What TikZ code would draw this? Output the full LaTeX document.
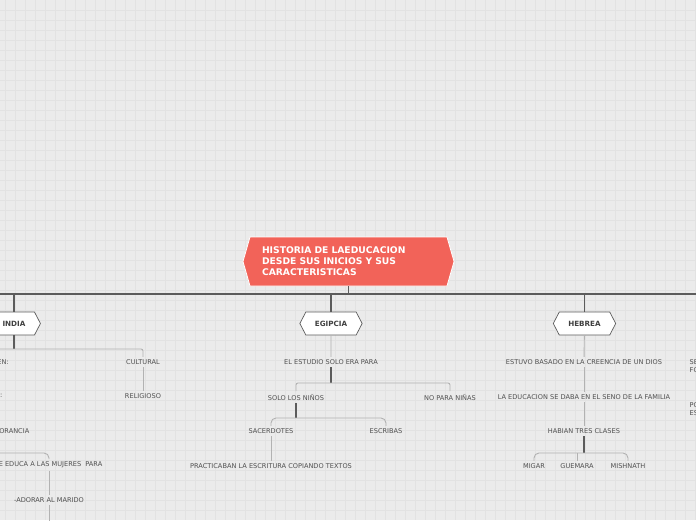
\documentclass[tikz,border=0pt]{standalone}
\usepackage{fontspec}
\setmainfont{DejaVu Sans}
\usetikzlibrary{shapes.symbols,positioning}
\definecolor{fondo}{HTML}{EBEBEB}
\definecolor{rejilla}{HTML}{E2E2E2}
\definecolor{rojo}{HTML}{F26359}
\definecolor{trazo}{HTML}{5C5C5C}
\definecolor{rama}{HTML}{B2B2B2}
\definecolor{letra}{HTML}{505050}
\tikzset{
  titulo/.style={shape=signal, signal to=east and west, signal pointer angle=148, fill=rojo, draw=white,
                 line width=0.8pt, text=white, font=\fontsize{9.2}{11}\selectfont\bfseries,
                 align=left, text width=173pt, inner xsep=12pt, minimum height=49pt},
  tema/.style={shape=signal, signal to=east and west, signal pointer angle=125, fill=white, draw=trazo,
               line width=0.7pt, text=letra!80!black, font=\fontsize{7.2}{8}\selectfont\bfseries,
               inner xsep=9pt, minimum height=23pt},
  idea/.style={text=letra, font=\fontsize{6.6}{8}\selectfont, inner sep=2.5pt},
  tronco/.style={draw=trazo, line width=1.3pt},
  linea/.style={draw=rama, line width=0.9pt},
}
\begin{document}
\begin{tikzpicture}[x=1pt,y=-1pt]
  \useasboundingbox (0,0) rectangle (696,520);
  \fill[fondo] (0,0) rectangle (696,520);
  \foreach \i in {5,15,...,695} \draw[rejilla, line width=0.5pt] (\i,0) -- (\i,520);
  \foreach \j in {10,20,...,510} \draw[rejilla, line width=0.5pt] (0,\j) -- (696,\j);

  % tema central
  \node[titulo] (raiz) at (348.5,261.5) {HISTORIA DE LAEDUCACION\\DESDE SUS INICIOS Y SUS\\CARACTERISTICAS};
  \node[tema] (india) at (14,323.5) {INDIA};
  \node[tema] (egipcia) at (331,323.5) {EGIPCIA};
  \node[tema] (hebrea) at (584.5,323.5) {HEBREA};
  \coordinate (barraI) at (-10,294);
  \coordinate (barraD) at (706,294);
  \draw[tronco] (raiz.south) -- (raiz.south |- barraI);
  \draw[tronco] (barraI) -- (barraD);
  \foreach \t in {india,egipcia,hebrea} \draw[tronco] (\t.north) -- (\t.north |- barraI);

  % india
  \node[idea, anchor=east] (indA) at (11.5,362) {EN:};
  \node[idea] (cultural) at (143,362) {CULTURAL};
  \node[idea] (religioso) at (143,396) {RELIGIOSO};
  \node[idea, anchor=east] (indB) at (5,396) {:};
  \node[idea, anchor=east] (indC) at (32,431) {ORANCIA};
  \node[idea, anchor=east] (indD) at (105,465) {E EDUCA A LAS MUJERES\ \ PARA};
  \node[idea] (adorar) at (49,500) {-ADORAR AL MARIDO};
  \coordinate (bi) at (-10,349);
  \coordinate (bm) at (-10,453);
  \coordinate (abajo) at (49,530);
  \draw[tronco] (india.south) -- (india.south |- bi);
  \draw[linea, rounded corners=2pt] (bi) -- (cultural.north |- bi) -- (cultural.north);
  \draw[linea] (cultural) -- (religioso);
  \draw[linea, rounded corners=5pt] (bm) -- (adorar |- bm) -- (adorar |- indD.north);
  \draw[linea] (adorar |- indD.south) -- (adorar.north);
  \draw[linea] (adorar) -- (abajo);

  % egipcia
  \node[idea] (estudio) at (331,362) {EL ESTUDIO SOLO ERA PARA};
  \node[idea] (ninos) at (296,397) {SOLO LOS NIÑOS};
  \node[idea] (ninas) at (450,397) {NO PARA NIÑAS};
  \node[idea] (sacerdotes) at (271,431) {SACERDOTES};
  \node[idea] (escribas) at (386,431) {ESCRIBAS};
  \node[idea] (practicaban) at (271,466) {PRACTICABAN LA ESCRITURA COPIANDO TEXTOS};
  \coordinate (be) at (331,383);
  \coordinate (bs) at (296,418);
  \draw[linea] (egipcia) -- (estudio);
  \draw[tronco] (estudio) -- (be);
  \draw[linea, rounded corners=2pt] (ninos.north) -- (ninos.north |- be) -- (ninas.north |- be) -- (ninas.north);
  \draw[tronco] (ninos) -- (bs);
  \draw[linea, rounded corners=5pt] (sacerdotes.north) -- (sacerdotes.north |- bs) -- (escribas.north |- bs) -- (escribas.north);
  \draw[linea] (sacerdotes) -- (practicaban);

  % hebrea
  \node[idea] (estuvo) at (584,362) {ESTUVO BASADO EN LA CREENCIA DE UN DIOS};
  \node[idea] (familia) at (584,397) {LA EDUCACION SE DABA EN EL SENO DE LA FAMILIA};
  \node[idea] (clases) at (584,431) {HABIAN TRES CLASES};
  \node[idea] (migar) at (534,466) {MIGAR};
  \node[idea] (guemara) at (577,466) {GUEMARA};
  \node[idea] (mishnath) at (628,466) {MISHNATH};
  \coordinate (bh) at (584,453);
  \draw[linea] (hebrea) -- (estuvo);
  \draw[linea] (estuvo) -- (familia);
  \draw[linea] (familia) -- (clases);
  \draw[tronco] (clases) -- (bh);
  \draw[linea, rounded corners=5pt] (migar.north) -- (migar.north |- bh) -- (mishnath.north |- bh) -- (mishnath.north);
  \draw[linea, rounded corners=3pt] (guemara.north) -- (guemara.north |- bh);

  % borde derecho
  \node[idea, anchor=west, align=left] (der1) at (687,366) {SE\\FO};
  \node[idea, anchor=west, align=left] (der2) at (687,409) {PO\\ES};
\end{tikzpicture}
\end{document}
